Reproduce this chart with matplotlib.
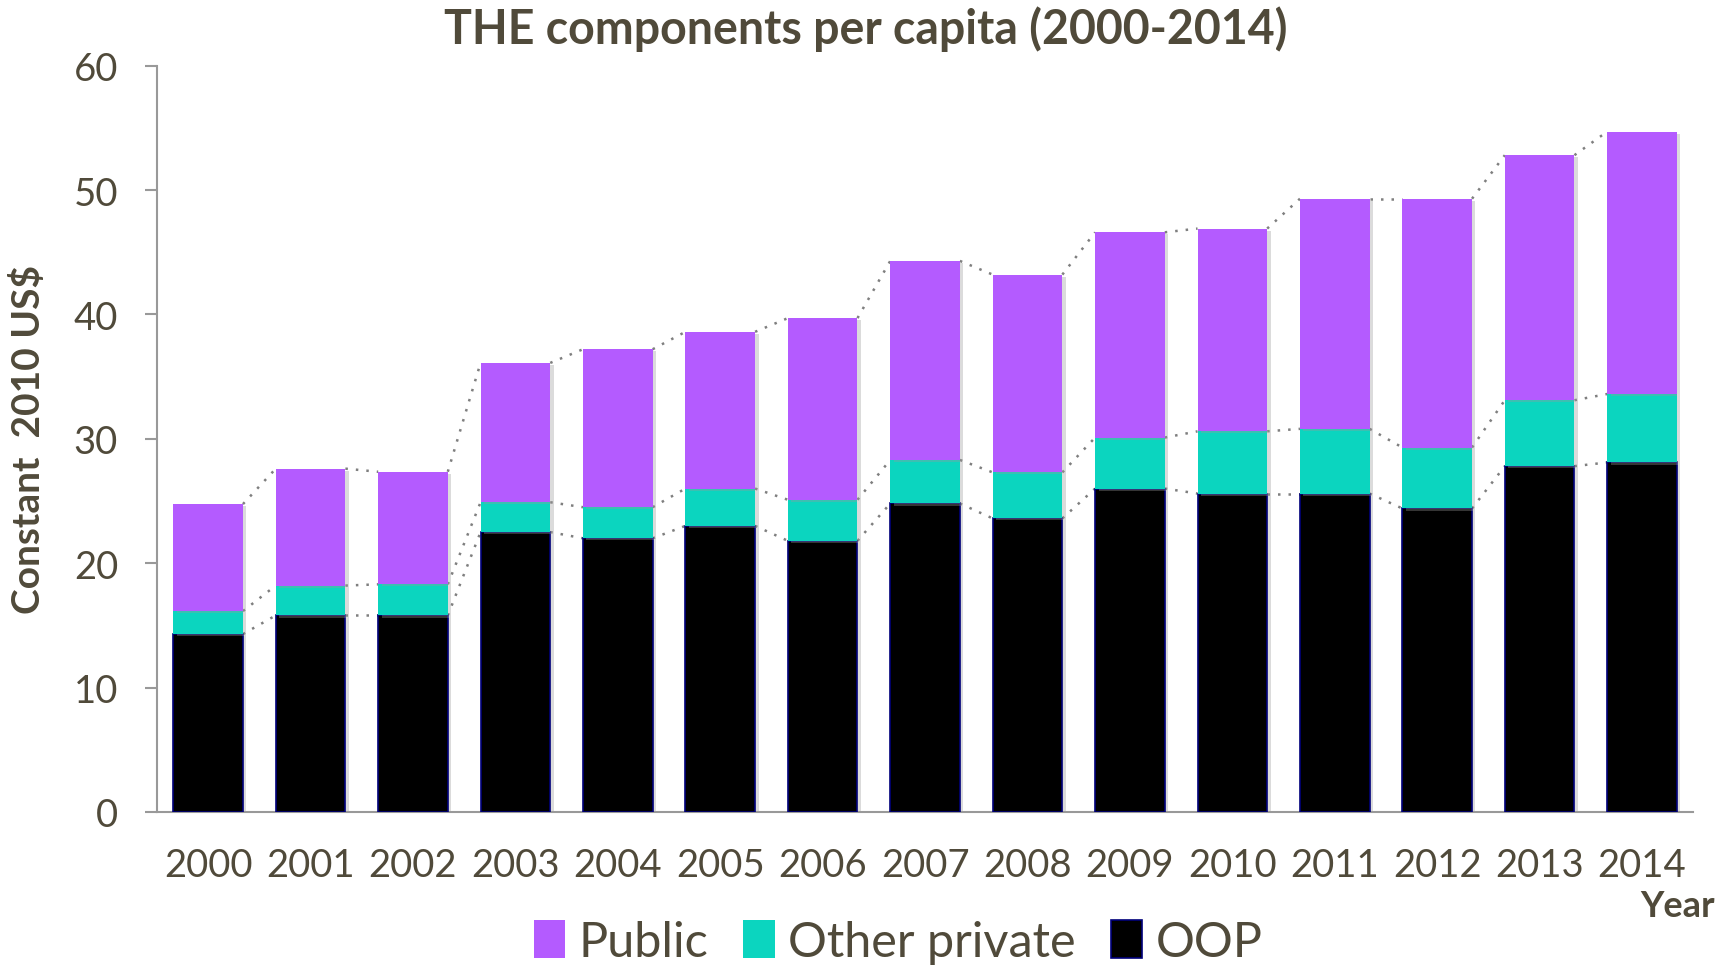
import matplotlib.pyplot as plt
import matplotlib.patheffects as pe
import numpy as np

plt.rcParams['font.family'] = ['Lato', 'DejaVu Sans']

years = [str(y) for y in range(2000, 2015)]
oop = [14.3, 15.8, 15.8, 22.5, 22.0, 23.0, 21.8, 24.8, 23.6, 26.0, 25.6, 25.6, 24.4, 27.8, 28.1]
other_private = [1.85, 2.4, 2.5, 2.4, 2.5, 3.0, 3.3, 3.5, 3.7, 4.1, 5.0, 5.2, 4.9, 5.3, 5.5]
public = [8.6, 9.4, 9.05, 11.2, 12.7, 12.6, 14.6, 16.0, 15.9, 16.5, 16.3, 18.5, 20.0, 19.7, 21.1]

text_color = '#504a3a'
c_public = '#b45bff'
c_other = '#0bd5bf'
c_oop = '#000000'

x = np.arange(len(years))
w = 0.68

fig = plt.figure(figsize=(17.34, 9.70), dpi=100)
ax = fig.add_axes([0.0905, 0.1619, 0.886, 0.7694])

shadow = [pe.SimplePatchShadow(offset=(2.5, -1.5), shadow_rgbFace='#999999', alpha=0.35), pe.Normal()]

b1 = ax.bar(x, oop, w, color=c_oop, edgecolor='#00007a', linewidth=1.2, label='OOP', zorder=3)
b2 = ax.bar(x, other_private, w, bottom=oop, color=c_other, linewidth=0, label='Other private', zorder=3)
bottom2 = np.array(oop) + np.array(other_private)
b3 = ax.bar(x, public, w, bottom=bottom2, color=c_public, linewidth=0, label='Public', zorder=3)
for bars in (b1, b2, b3):
    for r in bars:
        r.set_path_effects(shadow)

# series lines between neighbouring bars
levels = [np.array(oop), bottom2, bottom2 + np.array(public)]
for lv in levels:
    for i in range(len(years) - 1):
        ax.plot([x[i] + w / 2, x[i + 1] - w / 2], [lv[i], lv[i + 1]],
                ls=(0, (1, 3.2)), color='#7f7f7f', lw=1.8, zorder=2)

ax.set_xlim(-0.5, len(years) - 0.5)
ax.set_ylim(0, 60)
ax.set_yticks(range(0, 61, 10))
ax.set_xticks(x)
ax.set_xticklabels(years)

for s in ('top', 'right'):
    ax.spines[s].set_visible(False)
for s in ('left', 'bottom'):
    ax.spines[s].set_color('#999999')
    ax.spines[s].set_linewidth(1.5)
ax.tick_params(axis='y', length=9, width=1.5, color='#999999', labelsize=27.5, labelcolor=text_color, pad=19)
ax.tick_params(axis='x', length=0, labelsize=27.5, labelcolor=text_color, pad=25)

ax.set_ylabel('Constant  2010 US$', fontsize=28, fontweight='bold', color=text_color, labelpad=20)
ax.yaxis.set_label_coords(-0.072, 0.5)
fig.text(0.989, 0.065, 'Year', ha='right', va='center', fontsize=26, fontweight='bold', color=text_color)
fig.suptitle('THE components per capita (2000-2014)', x=0.499, y=0.970, va='center',
             fontsize=33.5, fontweight='bold', color=text_color)

handles = [b3, b2, b1]
leg = fig.legend(handles, ['Public', 'Other private', 'OOP'], loc='center', bbox_to_anchor=(0.518, 0.028),
                 ncol=3, frameon=False, fontsize=35, handlelength=0.65, handleheight=0.8,
                 handletextpad=0.27, columnspacing=0.72, labelcolor=text_color)
for h in leg.legend_handles:
    h.set_path_effects([])

fig.savefig('out.png', dpi=100)
